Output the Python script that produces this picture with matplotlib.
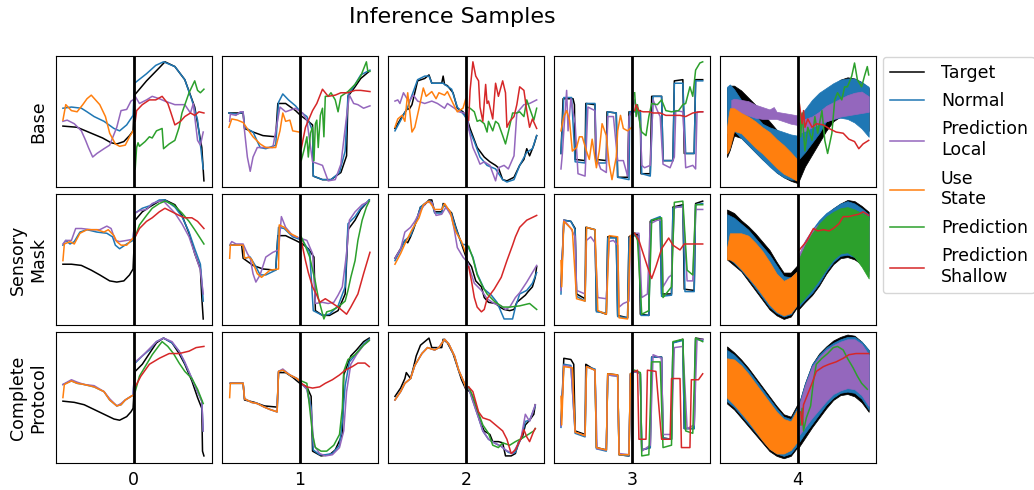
import numpy as np
import matplotlib
matplotlib.use("Agg")
import matplotlib.pyplot as plt

# series, in drawing / legend order
keys = ["target", "normal", "local", "state", "pred", "shallow"]
labels = ["Target", "Normal", "Prediction\nLocal", "Use\nState", "Prediction", "Prediction\nShallow"]
colors = ["black", "#1f77b4", "#9467bd", "#ff7f0e", "#2ca02c", "#d62728"]
row_names = ["Base", "Sensory\nMask", "Complete\nProtocol"]
col_names = ["0", "1", "2", "3", "4"]

# samples 0-3: (t, value) points, t=50 is the split
base_0 = dict(
    target=[(0,46),(10,45),(20,40),(28,36),(34,32),(38,31),(43,33),(47,38),(49.5,42),(50.5,72),(59,84),(68,95),(72,100),(79,96),(86,85),(93,62),(98,28),(99.5,0)],
    normal=[(0,61),(6,62),(13,61),(17,58),(22,54),(29,50),(36,44),(40,42),(45,47),(49.5,55),(50.5,82),(59,90),(65.5,97),(71,100),(79,96),(86,85),(91,68),(95,51),(99,10)],
    local=[(0,50),(3,51),(8,48),(13,42),(16,34),(18,28),(21,20),(24,23),(29,27),(33,30),(38,45),(41,59),(45,60),(48,67),(49.5,68),(51,71),(54,65),(59,68),(63,71),(68,69),(72,67),(79,64),(86,64),(90,57),(92,65),(93,54),(95,34),(97,30),(99,41)],
    state=[(0,51),(2,64),(6,59),(10,58),(14,64),(17,69),(20,72),(23,68),(26,64),(30,54),(33,40),(37,31),(40,29),(44,30),(47,37),(49.5,42)],
    pred=[(51,10),(52,28),(53,32),(54,29),(56,31),(58,33),(61,37),(63,36),(66,42),(70,44),(71,27),(75,31),(79,34),(82,45),(84,57),(89,74),(93,84),(95,76),(97,74),(99.5,77)],
    shallow=[(51,50),(52,59),(56,64),(61,68),(65.5,68),(70,71),(74,65),(76,58),(79,47),(83,50),(86,54),(90,57),(93,55),(96,58),(99.5,57)],
)
base_1 = dict(
    target=[(0,57),(10,57),(11,44),(17,41),(24,38),(33,37),(34.5,65),(40,65),(47,59),(50.5,55),(55,51),(59,47),(59.5,4),(66,1),(72,1),(79,7),(83,21),(84,71),(89,79),(93,86),(99,92)],
    normal=[(0,57),(6,56),(10,58),(11,45),(17,41),(22,28),(26,27),(33,30),(35,66),(38,73),(42,68),(47,63),(50.5,58),(55,54),(59,42),(59.5,4),(66,1),(72,1),(78,7),(82,25),(84,72),(89,81),(93,89),(99.5,93)],
    local=[(0.5,50),(1,56),(5,55),(8,58),(10,58),(11,42),(13,20),(15,8),(17,20),(20,28),(26,28),(31,28),(36,62),(40,58),(47,61),(50.5,58),(52,57),(55,51),(59,16),(66,13),(70,0),(75,1),(79,14),(83,54),(85,72),(88,65),(91,64),(95,61),(99.5,63)],
    state=[(0,45),(2,52),(6,51),(10,49),(14,42),(17,37),(22,31),(26,28),(33,28),(36,42),(38,57),(40,50),(43,51),(45,42),(49.5,41)],
    pred=[(51,17),(53,26),(55,37),(56,20),(57.5,40),(59,45),(60,17),(61,48),(62,51),(63,28),(64.5,55),(66,61),(67,37),(68,71),(70,71),(72,74),(75,68),(77,58),(79,71),(84,75),(89,81),(93,88),(97,100),(98,92),(99.5,92)],
    shallow=[(51,27),(54,45),(59,59),(62,65),(66,77),(70,71),(75,72),(79,74),(84,74),(89,76),(93,76),(99.5,75)],
)
base_2 = dict(
    target=[(0,44),(5,54),(9,61),(10,60),(12,64),(16,84),(21,86),(24,89),(26,82),(33,82),(34,88),(35,81),(37,80),(41,74),(44,61),(48,58),(51,52),(53,44),(58,28),(63,20),(67,16),(71,13),(73,11),(76,1),(79,0),(84,3),(86,8),(88,13),(91,18),(93,27),(95,21),(98,30),(100,38)],
    normal=[(0,42),(5,53),(9,62),(16,85),(21,88),(24,88),(26,82),(34,82),(35,81),(40,77),(44,62),(49,55),(51,51),(52,44),(56,33),(60,20),(65,13),(71,10),(76,1),(79,-1),(84,1),(88,13),(93,24),(97,27),(100,38)],
    local=[(0,67),(2,68),(3.5,65),(6,74),(8,70),(10,67),(13,72),(16,67),(21,65),(26,67),(30,65),(35,61),(37,65),(42,61),(45,58),(49,57),(51,54),(52,44),(55,28),(58,20),(60,14),(63,16),(67,13),(71,0),(73,11),(77,13),(80,10),(84,21),(86,57),(91,64),(95,65),(100,68)],
    state=[(0,45),(2,52),(5,55),(7,50),(9,74),(12,41),(14,45),(17,61),(20,78),(22,71),(26,75),(29,69),(31,74),(35,72),(37,75),(41,65),(44,58),(48,61),(50,69)],
    pred=[(51,62),(53,61),(56,58),(58,50),(60,51),(63,48),(65,41),(66,50),(69,42),(71,50),(73,48),(76,38),(78,31),(80,41),(83,57),(86,57),(88,58),(91,54),(93,68),(95,61),(98,51),(100,61)],
    shallow=[(52,51),(53,76),(55,100),(57,88),(59,84),(60,62),(62,50),(64,81),(65,65),(66,67),(69,52),(71,82),(73,71),(76,84),(78,74),(79,45),(81,50),(84,54),(86,64),(88,79),(91,76),(93,59),(95,45),(97,52),(100,44)],
)
base_3 = dict(
    target=[(0,23),(1.5,69),(8.5,69),(9.5,64),(10,18),(17,17),(17.5,65),(24,64),(24.5,18),(32,17),(32.5,58),(39,57),(40,3),(47,3),(48,58),(56,59),(56.5,6),(63,6),(64,71),(71,71),(72,17),(79,17),(80,84),(86,85),(87,23),(94,23),(95,85),(100,85)],
    normal=[(0,23),(2,70),(7.5,70),(10,16),(17,15),(18,65),(24,65),(25,15),(32,15),(33,58),(39,57),(40,3),(48,1),(48.5,58),(56,58),(57,6),(63,4),(65,71),(71,71),(72,17),(79,17),(80,82),(86,82),(88,23),(94,23),(95,84),(100,84)],
    local=[(0,10),(1,23),(2,42),(4,76),(5,42),(7,69),(10,48),(12,6),(17,4),(19,62),(24,59),(25,20),(28,10),(32,7),(33,54),(37,54),(40,17),(44,17),(47,4),(48,54),(50,58),(52,68),(54,58),(56,48),(57,13),(59,11),(63,13),(65,68),(68,59),(70,54),(72,14),(77,11),(80,20),(81,59),(86,58),(88,11),(93,13),(95,10),(96,58),(100,58)],
    state=[(0,42),(2,54),(4,59),(6,51),(8,25),(11,28),(13,37),(15,37),(18,25),(20,18),(22,35),(25,11),(27,25),(29,48),(32,38),(34,14),(36,1),(39,20),(40,42),(42,55),(44,44),(47,42),(50,45)],
    pred=[(52,74),(53,54),(54,64),(56,45),(57,41),(60,38),(62,54),(64,65),(68,64),(71,68),(74,59),(78,58),(83,59),(86,64),(88,65),(91,79),(93,71),(95,93),(98,99),(100,100)],
    shallow=[(52,59),(53,64),(55,59),(58,58),(62,58),(65,57),(70,57),(74,55),(79,55),(84,55),(88,54),(93,57),(98,58),(100,58)],
)
# sample 4: bands as (t, low, high), single lines as (t, value)
base_4 = dict(
    target=[(0,20,78),(2,26,80),(5,38,80),(10,36,76),(15,30,70),(20,24,64),(25,18,57),(30,13,50),(35,7,43),(40,3,36),(45,0,30),(50,-2,28),(55,12,40),(60,22,52),(65,32,63),(70,42,72),(75,50,80),(80,54,85),(85,55,87),(90,52,86),(95,47,83),(100,42,78)],
    normal=[(0,40,79),(2,45,81),(5,42,77),(10,36,68),(15,30,62),(20,24,55),(25,18,48),(30,12,45),(35,7,43),(40,3,41),(45,1,39),(49.5,1,38),(50.5,18,54),(55,24,60),(60,32,68),(65,40,74),(70,50,78),(75,52,82),(80,53,85),(85,52,86),(90,49,86),(95,44,83),(100,37,79)],
    local=[(3,54,68),(5,55,69),(10,57,68),(15,55,67),(20,53,64),(25,52,62),(30,52,60),(33,52,62),(35,52,58),(40,50,57),(45,48,56),(49.5,47,55),(50.5,40,50),(55,42,52),(60,45,54),(65,48,58),(70,50,63),(75,52,66),(80,54,69),(85,55,72),(90,56,74),(95,57,75),(100,58,71)],
    state=[(0,23,45),(1,25,54),(2,28,61),(5,42,61),(10,40,57),(15,34,54),(20,28,50),(25,23,45),(30,17,41),(35,11,35),(40,6,30),(45,3,24),(49.5,0,18)],
    pred=[(51,65),(52,37),(53,57),(55,25),(57,45),(60,34),(62,54),(64,40),(67,59),(69,34),(71,23),(74,40),(76,68),(78,74),(81,68),(83,79),(85,79),(88,88),(90,99),(92,85),(95,79),(97,88),(99,96),(100,89)],
    shallow=[(51,65),(53,48),(54,59),(55,45),(57,52),(60,45),(63,48),(68,47),(72,44),(77,41),(82,40),(86,35),(90,33),(93,27),(96,31),(100,34)],
)

mask_0 = dict(
    target=[(0,46),(6,46),(13,45),(20,41),(26,37),(33,32),(38,31),(43,32),(47,37),(49.5,42),(51,83),(56,90),(61,94),(68,99),(72,100),(79,96),(84,87),(89,72),(93,55),(97,42),(98,18),(99,0)],
    normal=[(0,62),(2,66),(5,63),(8,65),(12,73),(17,75),(24,73),(31,72),(35,69),(37,62),(40,59),(45,63),(49.5,66),(51,89),(56,93),(61,95),(68,100),(72,100),(79,94),(84,86),(89,73),(93,59),(97,46),(98,32),(99,15)],
    local=[(0,63),(2,66),(6,66),(9,76),(13,76),(20,75),(26,75),(31,78),(34,76),(37,66),(40,65),(45,66),(49.5,67),(51,89),(54,91),(59,92),(63,97),(68,99),(71,99),(75,94),(79,89),(84,80),(89,69),(93,55),(97,41),(99,21)],
    state=[(0,49),(1,63),(5,65),(8,63),(12,72),(17,75),(24,75),(29,73),(32,75),(36,70),(38,65),(41,62),(45,62),(49.5,68)],
    pred=[(51,69),(54,79),(59,87),(63,93),(68,97),(72,99),(78,96),(84,89),(89,82),(93,75),(99.5,63)],
    shallow=[(51,69),(54,76),(59,82),(63,85),(68,90),(72,93),(77,90),(82,87),(86,85),(91,85),(95,82),(99.5,76)],
)
mask_1 = dict(
    target=[(1,62),(9,62),(10,51),(17,45),(24,42),(33,41),(34.5,70),(40,70),(47,66),(52,63),(56,59),(60,52),(61,7),(66,3),(71,3),(77,7),(82,21),(84,75),(89,83),(93,92),(99,100)],
    normal=[(1,62),(10,62),(11,51),(15,52),(19,44),(22,37),(26,37),(33,41),(35,77),(39,76),(45,69),(52,66),(57,56),(59.5,7),(66,3),(71,4),(77,11),(82,27),(84,80),(89,86),(93,93),(99,100)],
    local=[(1,63),(2,65),(5,63),(10,63),(13,55),(15,51),(17,38),(19,31),(22,37),(26,52),(31,56),(35,58),(37,86),(40,77),(45,70),(50,68),(55,66),(59,55),(61,13),(66,14),(70,13),(74,14),(77,20),(80,27),(83,55),(85,83),(89,90),(94,96),(99,99)],
    state=[(0.5,51),(1,62),(10,62),(11,51),(14,52),(16,50),(20,38),(23,35),(29,41),(35,42),(35.5,79),(39,77),(43,72),(48,69)],
    pred=[(51,69),(54,61),(57,52),(61,31),(63,18),(67,0),(69,6),(72,7),(77,10),(82,15),(84,24),(86,35),(89,49),(91,66),(94,83),(97,94),(99,99)],
    shallow=[(51,66),(54,49),(56,39),(59,27),(62,20),(64,14),(68,17),(72,14),(77,10),(80,7),(83,4),(86,10),(91,21),(95,38),(99.5,56)],
)
mask_2 = dict(
    target=[(0,51),(4,59),(7,66),(9,64),(11,69),(13,75),(15,82),(18,94),(21,96),(24,100),(26,100),(28,90),(33,90),(34,97),(36,94),(40,89),(43,77),(47,63),(51,49),(54,44),(57,32),(61,27),(63,18),(66,14),(71,13),(74,10),(77,8),(81,7),(84,8),(86,14),(90,18),(92,20),(94,23),(97,27),(99,35),(100,44)],
    normal=[(0,49),(4,58),(7,66),(11,70),(15,82),(18,94),(21,97),(24,99),(26,98),(28,89),(33,89),(34,96),(36,94),(40,88),(43,76),(47,63),(51,62),(55,52),(58,38),(63,25),(68,20),(72,14),(77,0),(83,0),(85,10),(88,21),(93,24),(97,30),(100,39)],
    local=[(0,51),(4,59),(7,73),(11,77),(14,82),(18,91),(22,98),(26,98),(29,87),(33,88),(36,94),(40,86),(42,74),(44,60),(48,52),(51,48),(53,41),(56,30),(61,24),(65,17),(70,13),(75,11),(78,8),(81,10),(85,18),(88,22),(93,31),(97,39),(100,45)],
    state=[(0,46),(4,55),(7,63),(12,75),(17,85),(20,96),(24,99),(28,92),(33,92),(35,97),(39,90),(41,80),(43,73),(47,65),(50,55)],
    pred=[(52,61),(55,51),(58,37),(62,27),(65,21),(70,15),(76,10),(81,10),(88,11),(95,13),(100,8)],
    shallow=[(52,44),(54,32),(56,18),(58,10),(61,6),(63,8),(65,17),(70,25),(75,35),(79,49),(83,62),(85,69),(88,77),(93,83),(100,87)],
)
mask_3 = dict(
    target=[(0,27),(2,83),(7,82),(10,76),(11,21),(17,17),(17.5,77),(24,75),(25,7),(32,4),(33,69),(39,69),(40,3),(47,1),(48,69),(52,72),(55,70),(56,4),(62,3),(63,82),(70,85),(71,21),(78,21),(79,94),(86,96),(87,25),(94,24),(95,97),(100,99)],
    normal=[(0,21),(2,83),(7,82),(10,75),(11,19),(17,15),(18,77),(24,75),(25,6),(32,5),(33,68),(39,68),(40,2),(47,1),(48,68),(52,70),(55,69),(56.5,3),(62,3),(63.5,83),(70,86),(71,19),(78,20),(79,93),(86,95),(87.5,23),(94,23),(95,96),(100,97)],
    local=[(0,24),(2,83),(5,79),(7,76),(10,69),(11,24),(17,21),(18,66),(21,69),(24,64),(26,18),(32,17),(34,65),(37,66),(40,62),(41,10),(44,13),(48,15),(49,69),(52,72),(55,72),(57,18),(61,21),(63,80),(68,83),(71,83),(72,27),(76,35),(78,37),(80,94),(86,94),(89,32),(93,32),(95,92),(100,92)],
    state=[(0,49),(0.5,27),(2,82),(8,75),(11,17),(17,15),(18,77),(24,75),(26,7),(32,4),(34,70),(40,69),(41,1),(47,0),(49,70)],
    pred=[(52,72),(54,66),(57,4),(62,7),(64,83),(71,85),(72,18),(78,27),(80,98),(86,99),(89,41),(93,37),(95,96),(100,96)],
    shallow=[(52,72),(55,66),(58,55),(61,44),(64,34),(67,44),(71,59),(76,68),(79,62),(84,58),(87,63),(93,63),(100,63)],
)
mask_4 = dict(
    target=[(0,50,92),(5,45,89),(10,40,83),(15,32,78),(20,24,72),(25,16,65),(30,8,58),(35,3,48),(40,0,39),(45,2,39),(49.5,10,45),(50.5,8,50),(55,14,64),(60,20,74),(65,28,82),(70,38,88),(75,46,93),(80,51,97),(85,52,100),(90,50,99),(95,46,95),(100,41,90)],
    normal=[(0,52,88),(5,47,85),(10,41,80),(15,34,75),(20,26,68),(25,18,61),(30,10,54),(35,5,45),(40,2,36),(45,4,35),(49.5,12,40),(50.5,10,52),(55,16,65),(60,22,75),(65,30,83),(70,40,89),(75,48,93),(80,53,97),(85,54,99),(90,52,97),(95,46,93),(100,40,88)],
    local=[(50.5,14,54),(55,20,66),(60,27,75),(65,35,80),(70,44,84),(75,51,86),(80,56,88),(85,57,88),(90,53,87),(95,45,85),(100,36,83)],
    state=[(0,50,60),(2,50,72),(5,48,72),(10,42,72),(15,35,70),(20,28,64),(25,20,57),(30,12,48),(35,6,38),(40,3,32),(45,5,35),(49.5,12,40)],
    pred=[(50.5,12,50),(55,18,62),(60,25,72),(65,33,80),(70,42,86),(75,50,90),(80,55,93),(85,56,94),(90,52,92),(95,44,89),(100,34,86)],
    shallow=[(51,58),(56,65),(61,76),(64,74),(68,75),(72,74),(75,76),(79,80),(82,86),(86,86),(89,87),(93,88),(96,90),(100,87)],
)

full_0 = dict(
    target=[(0,47),(8,46),(15,44),(22,40),(29,36),(36,32),(40,31),(45,34),(48,38),(49.5,41),(51,72),(56,78),(61,87),(66,96),(71,100),(77,96),(82,87),(86,78),(91,64),(95,50),(98,41),(98.5,5),(99.5,1)],
    normal=[(0,61),(6,64),(10,62),(15,61),(22,59),(29,55),(33,48),(38,43),(41,44),(44,48),(48,51),(49.5,52),(51,79),(56,85),(61,90),(66,97),(71,100),(77,96),(82,89),(86,79),(91,66),(95,55),(98,47),(99,22)],
    local=[(0,61),(6,65),(10,63),(15,61),(22,60),(29,55),(33,49),(38,43),(41,45),(44,48),(48,51),(49.5,52),(51,80),(56,85),(61,91),(66,97),(71,100),(77,97),(82,89),(86,80),(91,66),(95,55),(98,47),(99,22)],
    state=[(0,50),(1,61),(6,64),(10,62),(15,61),(22,59),(29,55),(33,48),(38,43),(41,44),(44,48),(48,51),(49.5,52)],
    pred=[(51,55),(54,68),(59,78),(63,86),(68,94),(70,97),(74,93),(78,87),(82,79),(86,72),(91,66),(95,57),(99,45)],
    shallow=[(51,59),(55,68),(61,78),(68,83),(75,87),(82,87),(89,89),(94,92),(99.5,93)],
)
full_1 = dict(
    target=[(1,62),(10,62),(11,48),(18,46),(25,43),(34,42),(35,71),(40,71),(45,67),(50,62),(55,59),(58,51),(59,5),(65,1),(71,2),(75,6),(80,19),(81,69),(86,85),(90,90),(95,97),(99,100)],
    normal=[(1,62),(10,62),(11,49),(16,46),(20,45),(25,42),(29,40),(34,38),(35,72),(38,73),(43,69),(48,66),(50,64),(51,62),(55,57),(58,42),(59.5,6),(64,2),(68,2),(73,3),(78,10),(80,30),(82,60),(85,80),(90,87),(95,95),(99,99)],
    local=[(1,62),(10,62),(11,49),(16,46),(20,45),(25,42),(29,40),(34,38),(35,72),(38,74),(43,69),(48,66),(50,64),(51,62),(55,57),(58,38),(60,10),(64,3),(68,1),(73,2),(78,8),(81,22),(83,55),(86,78),(90,86),(95,94),(99,98)],
    state=[(0.5,50),(1,62),(10,62),(11,49),(16,46),(20,45),(25,42),(29,40),(34,38),(35,72),(38,73),(43,69),(48,66),(50,64)],
    pred=[(51,64),(55,62),(57,41),(59,19),(61,8),(65,5),(69,5),(74,10),(78,19),(80,41),(81,72),(84,82),(89,86),(95,94),(99,98)],
    shallow=[(51,62),(55,59),(59,58),(64,59),(68,62),(73,65),(78,69),(82,73),(87,76),(91,79),(96,79),(99,76)],
)
full_2 = dict(
    target=[(0,51),(4,58),(7,66),(8,71),(11,66),(13,75),(15,85),(18,94),(21,97),(24,100),(26,92),(30,92),(33,92),(34,99),(37,96),(41,87),(44,76),(47,65),(50,57),(53,55),(57,44),(60,30),(63,22),(67,19),(69,13),(73,13),(76,12),(78,1),(82,1),(85,3),(87,12),(90,17),(92,27),(95,31),(98,36),(99,44)],
    normal=[(0,48),(4,55),(7,62),(11,66),(14,77),(19,87),(23,92),(28,90),(31,92),(35,99),(38,95),(42,85),(45,73),(49,62),(50,58),(52,58),(55,47),(59,33),(62,22),(66,15),(70,12),(75,9),(80,4),(83,3),(85,4),(89,16),(92,30),(95,31),(99,43)],
    local=[(0,48),(4,55),(7,62),(11,66),(14,77),(19,87),(23,92),(28,90),(31,92),(35,99),(38,95),(42,85),(45,73),(49,62),(50,58),(52,58),(55,47),(59,33),(62,22),(66,15),(70,12),(75,9),(78,6),(83,3),(85,7),(89,16),(92,36),(95,30),(99,44)],
    state=[(0,48),(4,55),(7,62),(11,66),(14,77),(19,87),(23,92),(28,90),(31,92),(35,99),(38,95),(42,85),(45,73),(49,62),(50,58)],
    pred=[(52,59),(55,51),(59,37),(62,27),(66,20),(69,10),(73,8),(76,12),(81,10),(85,13),(90,16),(94,19),(98,22),(99,24)],
    shallow=[(52,59),(55,55),(59,38),(62,33),(67,31),(71,27),(76,22),(79,15),(82,3),(85,6),(89,16),(91,23),(93,17),(95,13),(98,22),(99,24)],
)
full_3 = dict(
    target=[(0,27),(2,83),(7,82),(9,78),(10,22),(17,19),(17.5,78),(24,73),(25,8),(32,6),(33,70),(40,69),(41,2),(48,1),(49,70),(52,72),(56,70),(57,6),(63,8),(64,84),(71,84),(72,16),(78,15),(79,96),(86,99),(87,24),(94,24),(95,100),(100,99)],
    normal=[(0,25),(2,78),(7,77),(10,20),(17,17),(18,76),(24,74),(25,7),(32,5),(33,69),(40,68),(41,2),(48,1),(49,69),(52,72),(56,70),(57,6),(63,8),(64,84),(71,84),(72,16),(78,15),(79,96),(86,98),(87,24),(94,24),(95,99),(100,98)],
    local=[(0,26),(2,77),(7,76),(10,21),(17,18),(18,76),(24,73),(25.5,7),(32,6),(33,69),(40,68),(41,3),(48,2),(49,69),(52,72),(56,70),(57,5),(63,10),(65,86),(71,83),(72,19),(78,19),(80,92),(86,93),(89,24),(94,27),(96,99),(100,99)],
    state=[(0,51),(0.5,27),(2,76),(8,75),(10,21),(17,18),(18,76),(24,73),(25,8),(32,6),(33,70),(40,69),(41,2),(48,2),(49,70)],
    pred=[(52,73),(56,71),(57,1),(62,2),(64,80),(70,80),(72,8),(78,10),(79,97),(86,99),(88,22),(93,20),(95,100),(100,97)],
    shallow=[(52,72),(54,73),(55,15),(60,15),(61,73),(67,72),(71,15),(77,15),(78,66),(84,66),(85,8),(91,8),(92,65),(97,65),(100,70)],
)
full_4 = dict(
    target=[(0,45,93),(5,40,88),(10,33,82),(15,26,75),(20,19,67),(25,12,59),(30,5,51),(35,1,43),(40,-1,36),(45,1,34),(49.5,8,44),(50.5,8,44),(55,16,62),(60,25,78),(65,33,87),(70,41,93),(75,48,98),(80,52,101),(85,53,103),(90,51,102),(95,46,97),(100,38,90)],
    normal=[(0,47,90),(5,42,86),(10,35,80),(15,28,73),(20,21,65),(25,14,57),(30,7,49),(35,3,41),(40,1,34),(45,3,32),(49.5,10,42),(50.5,12,44),(55,20,62),(60,28,78),(65,36,86),(70,44,92),(75,50,96),(80,54,99),(85,55,101),(90,54,101),(95,49,97),(100,40,90)],
    local=[(50.5,18,42),(55,25,60),(60,33,76),(65,40,84),(70,47,90),(75,53,94),(80,56,97),(85,58,99),(90,57,99),(95,52,95),(100,43,86)],
    state=[(0,50,83),(5,44,82),(10,37,77),(15,30,70),(20,22,62),(25,14,54),(30,7,46),(35,3,38),(40,3,32),(45,6,30),(49.5,13,40)],
    pred=[(52,27),(53,41),(54,22),(56,33),(59,43),(61,64),(63,78),(67,83),(71,87),(75,92),(78,93),(82,90),(85,83),(89,75),(92,68),(95,62),(99,57)],
    shallow=[(52,38),(53,27),(54,44),(56,50),(60,62),(63,72),(68,76),(72,78),(77,80),(82,83),(86,86),(91,87),(95,87),(100,87)],
)

grid = [[base_0, base_1, base_2, base_3, base_4],
        [mask_0, mask_1, mask_2, mask_3, mask_4],
        [full_0, full_1, full_2, full_3, full_4]]

fig, axes = plt.subplots(3, 5, figsize=(10.34, 4.9), dpi=100)
fig.subplots_adjust(left=0.054, right=0.847, top=0.886, bottom=0.055, wspace=0.065, hspace=0.055)

for r in range(3):
    for c in range(5):
        ax = axes[r, c]
        panel = grid[r][c]
        for k, col in zip(keys, colors):
            if k not in panel:
                continue
            pts = np.array(panel[k], dtype=float)
            if pts.shape[1] == 3:
                ax.fill_between(pts[:, 0], pts[:, 1], pts[:, 2], color=col, lw=0.5)
            else:
                ax.plot(pts[:, 0], pts[:, 1], color=col, lw=1.1)
        ax.axvline(50, color="black", lw=2)
        ax.set_xlim(-5, 105)
        ax.set_ylim(-5, 105)
        ax.set_yticks([])
        ax.set_xticks([50])
        ax.tick_params(axis="x", length=0, pad=6, labelsize=12.5)
        if r == 2:
            ax.set_xticklabels([col_names[c]])
        else:
            ax.set_xticklabels([])
        if c == 0:
            ax.set_ylabel(row_names[r], fontsize=12.5, labelpad=6)

handles = [plt.Line2D([], [], color=col, lw=1.1) for col in colors]
fig.legend(handles, labels, loc="upper left", bbox_to_anchor=(874 / 1034, 1 - 48 / 490),
           fontsize=12.5, frameon=True, labelspacing=0.6, handletextpad=0.95)
fig.suptitle("Inference Samples", fontsize=16, x=0.437, y=0.985)

fig.savefig("out.png", dpi=100)
